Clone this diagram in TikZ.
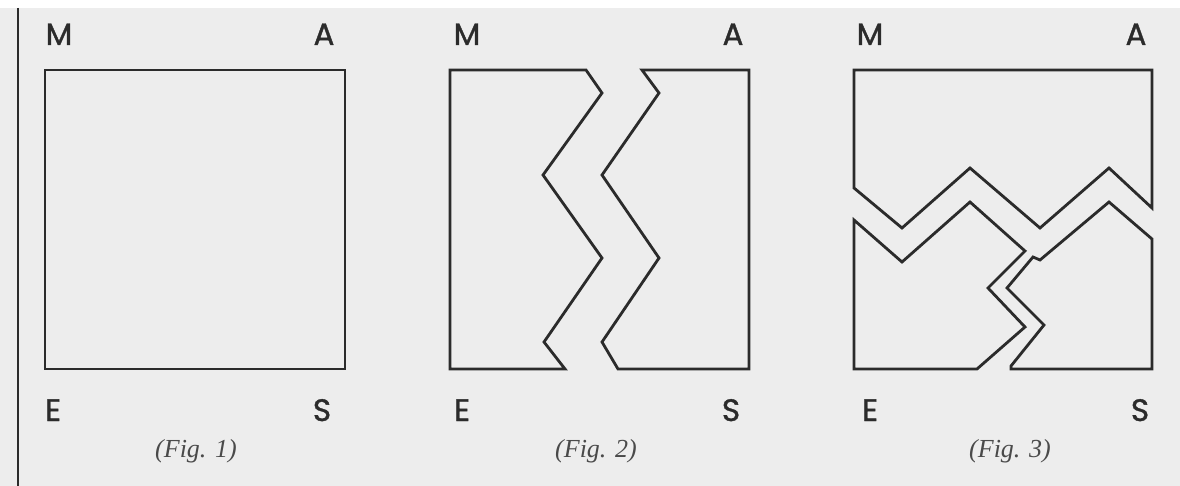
\documentclass[tikz,border=0pt]{standalone}
\usepackage{fontspec}
\setmainfont{Liberation Serif}
\newfontfamily\lblfont[FakeBold=1.2]{Poppins}
\definecolor{paper}{HTML}{EDEDED}
\definecolor{ink}{HTML}{2B2B2B}
\definecolor{capink}{HTML}{4A4A4A}
\begin{document}
\begin{tikzpicture}[x=1pt,y=-1pt,
  shape line/.style={draw=ink, line width=2.8pt, line join=miter},
  corner label/.style={anchor=base, inner sep=0pt, text=ink, font=\lblfont\fontsize{31}{31}\selectfont},
  fig caption/.style={anchor=base, inner sep=0pt, text=capink, font=\fontsize{26}{26}\selectfont\itshape}]
  % page
  \useasboundingbox (0,0) rectangle (1180,486);
  \fill[paper] (0,0) rectangle (1180,486);
  \fill[white] (0,0) rectangle (1180,8);
  \draw[ink, line width=2pt] (17.5,8) -- (17.5,486);

  % ---------- Fig. 1 ----------
  \draw[shape line] (45,70) rectangle (345,369);
  \node[corner label] (m1) at (59,45) {M};
  \node[corner label] (a1) at (324,45) {A};
  \node[corner label] (e1) at (53,421) {E};
  \node[corner label] (s1) at (322,421) {S};
  \node[fig caption] (c1) at (196,457) {(Fig. 1)};

  % ---------- Fig. 2 ----------
  \draw[shape line] (450,70) -- (586,70) -- (602,93) -- (543,175) -- (602,258)
        -- (544,342) -- (565,369) -- (450,369) -- cycle;
  \draw[shape line] (642,70) -- (749,70) -- (749,369) -- (618,369) -- (602,342)
        -- (659,258) -- (602,175) -- (659,93) -- cycle;
  \node[corner label] (m2) at (467,45) {M};
  \node[corner label] (a2) at (733,45) {A};
  \node[corner label] (e2) at (462,421) {E};
  \node[corner label] (s2) at (731,421) {S};
  \node[fig caption] (c2) at (596,457) {(Fig. 2)};

  % ---------- Fig. 3 ----------
  \draw[shape line] (854,70) -- (1152,70) -- (1152,208) -- (1109,168) -- (1040,228)
        -- (970,168) -- (902,228) -- (854,188) -- cycle;
  \draw[shape line] (854,220) -- (902,262) -- (970,202) -- (1025,251) -- (988,288)
        -- (1025,327) -- (977,369) -- (854,369) -- cycle;
  \draw[shape line] (1033,257) -- (1040,260) -- (1109,202) -- (1152,239) -- (1152,369)
        -- (1011,369) -- (1011,366) -- (1044,325) -- (1007,288) -- cycle;
  \node[corner label] (m3) at (870,45) {M};
  \node[corner label] (a3) at (1136,45) {A};
  \node[corner label] (e3) at (870,421) {E};
  \node[corner label] (s3) at (1140,421) {S};
  \node[fig caption] (c3) at (1010,457) {(Fig. 3)};
\end{tikzpicture}
\end{document}
